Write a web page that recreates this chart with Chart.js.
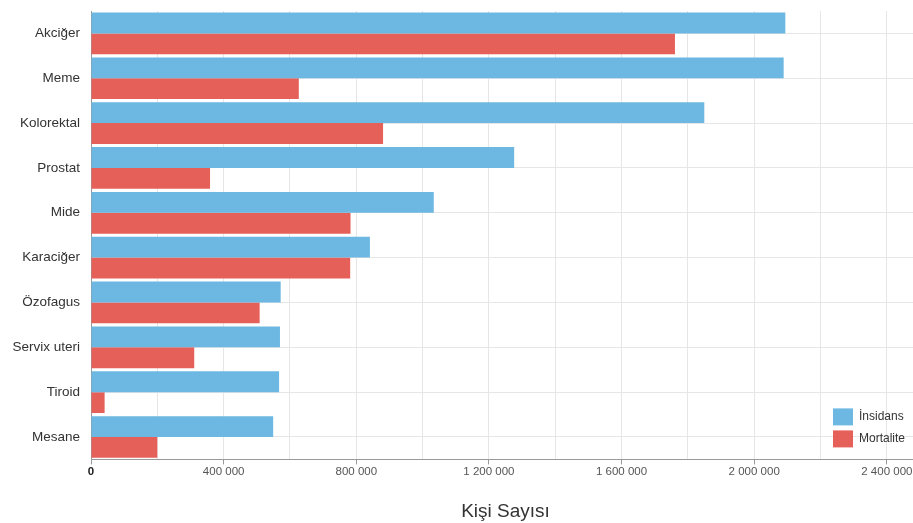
<!DOCTYPE html>
<html lang="tr">
<head>
<meta charset="utf-8">
<title>Kanser türlerine göre insidans ve mortalite</title>
<script src="https://cdn.jsdelivr.net/npm/chart.js@4/dist/chart.umd.min.js"></script>
<style>
  html, body { margin: 0; padding: 0; background: #ffffff; overflow: hidden; }
  #wrap { width: 925px; height: 523px; }
  canvas { display: block; }
</style>
</head>
<body>
<div id="wrap"><canvas id="chart" width="925" height="523"></canvas></div>
<script>
// Kanser türleri (kategori ekseni)
const categories = ['Akciğer', 'Meme', 'Kolorektal', 'Prostat', 'Mide', 'Karaciğer', 'Özofagus', 'Servix uteri', 'Tiroid', 'Mesane'];
// Yeni vaka sayıları
const insidans = [2093876, 2088849, 1849518, 1276106, 1033701, 841080, 572034, 569847, 567233, 549393];
// Ölüm sayıları
const mortalite = [1761007, 626679, 880792, 358989, 782685, 781631, 508585, 311365, 41071, 199922];
// Seri adları
const seriesNames = ['İnsidans', 'Mortalite'];
// Eksen etiketleri
const xTitle = 'Kişi Sayısı';
const xLabelStep = 400000;
const xGridStep = 200000;

const FONT = "'Liberation Sans', Arial, sans-serif";
const BLUE = '#6cb8e2';
const RED = '#e6605a';

function groupThousands(v) {
  return String(v).replace(/\B(?=(\d{3})+(?!\d))/g, ' ');
}

// Legend drawn inside the plot area, bottom-right corner
const innerLegend = {
  id: 'innerLegend',
  afterDraw(chart) {
    const ctx = chart.ctx;
    const area = chart.chartArea;
    const boxW = 20, boxH = 17, rowGap = 5;
    const x0 = area.right - 87;
    const y0 = area.bottom - 51;
    ctx.save();
    ctx.font = '12px ' + FONT;
    ctx.textBaseline = 'middle';
    ctx.textAlign = 'left';
    chart.data.datasets.forEach((ds, i) => {
      const y = y0 + i * (boxH + rowGap);
      ctx.fillStyle = ds.backgroundColor;
      ctx.fillRect(x0, y, boxW, boxH);
      ctx.fillStyle = '#333333';
      ctx.fillText(ds.label, x0 + boxW + 6, y + boxH / 2);
    });
    ctx.restore();
  }
};

new Chart(document.getElementById('chart'), {
  type: 'bar',
  data: {
    labels: categories,
    datasets: [
      { label: seriesNames[0], data: insidans, backgroundColor: BLUE, borderWidth: 0 },
      { label: seriesNames[1], data: mortalite, backgroundColor: RED, borderWidth: 0 }
    ]
  },
  options: {
    indexAxis: 'y',
    responsive: false,
    animation: false,
    events: [],
    categoryPercentage: 0.93,
    barPercentage: 1.0,
    layout: { padding: { top: 11, right: 5, bottom: 0, left: 0 } },
    plugins: {
      legend: { display: false },
      tooltip: { enabled: false }
    },
    scales: {
      x: {
        type: 'linear',
        min: 0,
        max: 2500000,
        // grid every 200 000, labels every 400 000
        afterBuildTicks(scale) {
          const ticks = [];
          for (let v = 0; v <= scale.max; v += xGridStep) ticks.push({ value: v });
          scale.ticks = ticks;
        },
        ticks: {
          autoSkip: false,
          maxRotation: 0,
          padding: 1,
          callback: (v) => (v % xLabelStep === 0 ? groupThousands(v) : ''),
          font: (c) => ({ family: FONT, size: 11.5, weight: (c.tick && c.tick.value === 0) ? 'bold' : 'normal' }),
          color: (c) => ((c.tick && c.tick.value === 0) ? '#222222' : '#555555')
        },
        grid: {
          color: '#e6e6e6',
          lineWidth: 1,
          tickLength: 5,
          tickColor: (c) => ((c.tick && c.tick.value % xLabelStep === 0) ? '#999999' : 'rgba(0,0,0,0)')
        },
        border: { display: true, color: '#999999', width: 1 },
        title: {
          display: true,
          text: xTitle,
          color: '#333333',
          font: { family: FONT, size: 19 },
          padding: { top: 20, bottom: 0 }
        }
      },
      y: {
        type: 'category',
        afterFit(scale) {
          scale.width = 91;
          scale.paddingTop = 0;
          scale.paddingBottom = 0;
        },
        ticks: {
          padding: 11,
          color: '#333333',
          font: { family: FONT, size: 13.5 }
        },
        grid: {
          offset: false,
          color: '#e6e6e6',
          lineWidth: 1,
          drawTicks: false
        },
        border: { display: true, color: '#999999', width: 1 }
      }
    }
  },
  plugins: [innerLegend]
});
</script>
</body>
</html>
